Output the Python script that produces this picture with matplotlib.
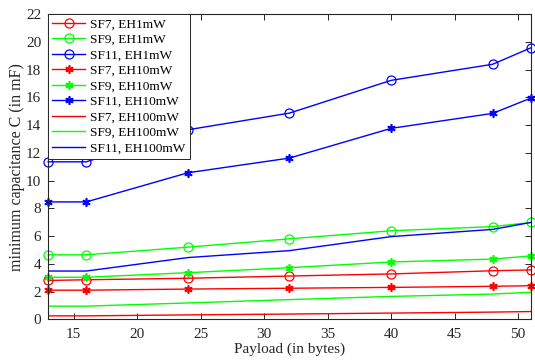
import matplotlib

matplotlib.use("Agg")
import matplotlib.pyplot as plt

plt.rcParams["font.family"] = ["Liberation Serif", "DejaVu Serif"]
plt.rcParams["mathtext.fontset"] = "stix"

payload = [13, 16, 24, 32, 40, 48, 51]

sf7_eh1 = [2.8, 2.85, 2.96, 3.12, 3.27, 3.5, 3.56]
sf9_eh1 = [4.65, 4.65, 5.2, 5.8, 6.38, 6.68, 6.98]
sf11_eh1 = [11.35, 11.35, 13.66, 14.86, 17.22, 18.38, 19.56]
sf7_eh10 = [2.1, 2.1, 2.18, 2.24, 2.3, 2.38, 2.42]
sf9_eh10 = [3.03, 3.03, 3.36, 3.72, 4.13, 4.34, 4.57]
sf11_eh10 = [8.46, 8.46, 10.56, 11.62, 13.76, 14.84, 15.94]
sf7_eh100 = [0.25, 0.25, 0.32, 0.38, 0.45, 0.52, 0.56]
sf9_eh100 = [0.95, 0.95, 1.18, 1.42, 1.65, 1.82, 1.95]
sf11_eh100 = [3.48, 3.48, 4.45, 4.95, 5.96, 6.48, 6.98]

RED, GREEN, BLUE = "#ff0000", "#00ff00", "#0000ff"
ASTERISK = (6, 2, 0)

series = [
    (sf7_eh1, RED, "o", "SF7, EH1mW"),
    (sf9_eh1, GREEN, "o", "SF9, EH1mW"),
    (sf11_eh1, BLUE, "o", "SF11, EH1mW"),
    (sf7_eh10, RED, ASTERISK, "SF7, EH10mW"),
    (sf9_eh10, GREEN, ASTERISK, "SF9, EH10mW"),
    (sf11_eh10, BLUE, ASTERISK, "SF11, EH10mW"),
    (sf7_eh100, RED, None, "SF7, EH100mW"),
    (sf9_eh100, GREEN, None, "SF9, EH100mW"),
    (sf11_eh100, BLUE, None, "SF11, EH100mW"),
]

fig = plt.figure(figsize=(5.35, 3.6), dpi=100)
ax = fig.add_axes([0.09, 0.113, 0.902, 0.848])

for vals, color, marker, label in series:
    if marker == "o":
        ax.plot(payload, vals, "-", color=color, marker="o", markersize=6.5,
                markerfacecolor="none", markeredgewidth=0.9, linewidth=1.0,
                label=label, clip_on=False)
    elif marker is not None:
        ax.plot(payload, vals, "-", color=color, marker=marker, markersize=6,
                markeredgewidth=1.2, linewidth=1.0, label=label, clip_on=False)
    else:
        ax.plot(payload, vals, "-", color=color, linewidth=1.0, label=label)

ax.set_xlim(13, 51)
ax.set_ylim(0, 22)
ax.set_xticks([15, 20, 25, 30, 35, 40, 45, 50])
ax.set_yticks(range(0, 23, 2))
ax.tick_params(direction="in", top=True, right=True, length=4, width=0.7,
               labelsize=11, colors="#262626")
ax.tick_params(axis="x", pad=6)
ax.tick_params(axis="y", pad=5)
for spine in ax.spines.values():
    spine.set_color("#262626")
    spine.set_linewidth(0.8)

ax.set_xlabel("Payload (in bytes)", fontsize=11, color="#262626", labelpad=1)
ax.set_ylabel("minimum capacitance C (in mF)", fontsize=11.5, color="#262626",
              labelpad=1)

leg = ax.legend(loc="upper left", fontsize=9.6, fancybox=False, framealpha=1,
                edgecolor="#262626", borderpad=0.3, labelspacing=0.24,
                handlelength=2.5, handletextpad=0.35, borderaxespad=0)
leg.get_frame().set_linewidth(0.7)

fig.savefig("out.png", dpi=100)
